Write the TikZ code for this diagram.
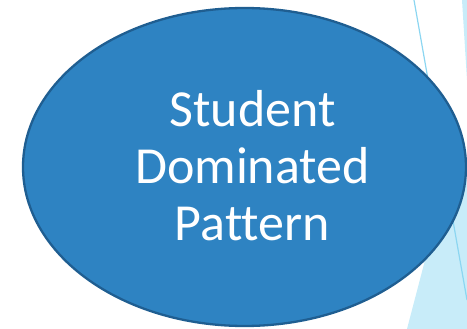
\documentclass[tikz,border=0pt]{standalone}
\usepackage{fontspec}
\setmainfont{Carlito}[Ligatures=NoCommon]
\usepackage{tikz}
\usetikzlibrary{shapes.geometric}

\definecolor{ovalfill}{HTML}{2E83C2}
\definecolor{ovaledge}{HTML}{1F5E91}
\definecolor{wisp}{HTML}{8CD6F1}
\definecolor{wispfill}{HTML}{C8ECF9}

\begin{document}
\begin{tikzpicture}[x=1pt, y=1pt,
    oval/.style={ellipse, draw=ovaledge, fill=ovalfill, line width=2.3pt,
      minimum width=443, minimum height=318, inner sep=0pt},
    ovaltext/.style={text=white, align=center, font=\fontsize{52}{57}\selectfont}]
    \useasboundingbox (0,0) rectangle (467,-329);
    % light strokes in the right margin
    \fill[wispfill] (407,-329) -- (446,-180) -- (467,-180) -- (467,-329) -- cycle;
    \fill[wispfill] (462,0) -- (467,0) -- (467,-80) -- cycle;
    \draw[wisp, line width=1.2pt] (414,0) -- (467,-300);
    
    \node[oval] (pattern) at (244.5,-167) {};
    \node[ovaltext] (title) at ([xshift=8pt, yshift=1pt]pattern.center) {Student\\Dominated\\Pattern};
\end{tikzpicture}
\end{document}
